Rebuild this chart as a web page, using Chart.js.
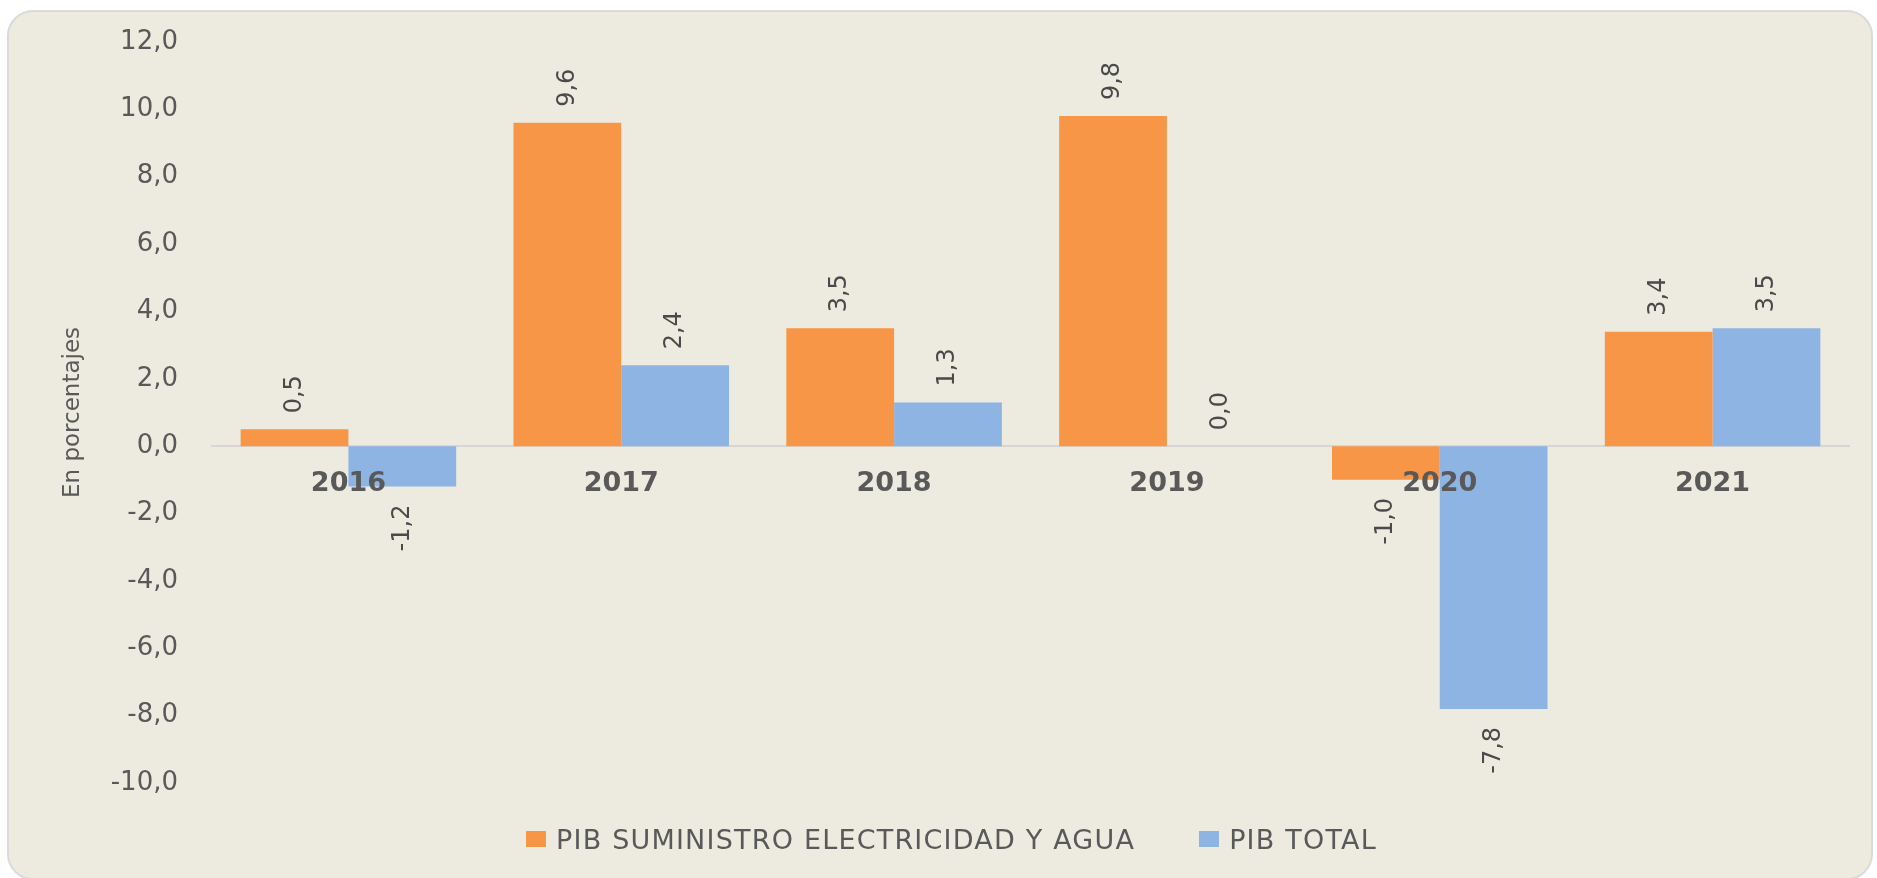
<!DOCTYPE html>
<html>
<head>
<meta charset="utf-8">
<script src="https://cdn.jsdelivr.net/npm/chart.js@4"></script>
<style>
    body { margin: 0; background: #ffffff; }
    #wrap { position: relative; width: 1877px; height: 878px; overflow: hidden; }
    #card {
        position: absolute; left: 7px; top: 10px; width: 1862px; height: 866px;
        background: #EDEBE0; border: 2px solid #DADADA; border-radius: 26px;
    }
    #chart-area { position: absolute; left: 0; top: 0; }
    #legend {
        position: absolute; left: 494px; top: 821px; height: 36px;
        display: flex; align-items: center;
        font-family: 'DejaVu Sans', sans-serif; font-size: 27px; letter-spacing: 1.2px; color: #595959;
    }
    .item { display: flex; align-items: center; margin: 0 32px; white-space: nowrap; }
    .box { width: 20px; height: 16px; margin-right: 10px; }
</style>
</head>
<body>
<div id="wrap">
    <div id="card"></div>
    <canvas id="chart-area" width="1877" height="878"></canvas>
    <div id="legend"></div>
</div>
<script>
var years = ['2016', '2017', '2018', '2019', '2020', '2021'];
var pibElectricidad = [0.5, 9.6, 3.5, 9.8, -1.0, 3.4];
var pibTotal = [-1.2, 2.4, 1.3, 0.0, -7.8, 3.5];
var yTicks = [-10, -8, -6, -4, -2, 0, 2, 4, 6, 8, 10, 12];

var orange = '#F79646';
var blue = '#8EB4E3';
var textColor = '#595959';
var fontFamily = "'DejaVu Sans', sans-serif";

function fmt(v) {
    return v.toFixed(1).replace('.', ',');
}

// rotated value labels above / below each bar
var valueLabels = {
    id: 'valueLabels',
    afterDatasetsDraw: function(chart) {
        var ctx = chart.ctx;
        ctx.save();
        ctx.font = '24px ' + fontFamily;
        ctx.fillStyle = '#4a4a4a';
        ctx.textBaseline = 'middle';
        chart.data.datasets.forEach(function(ds, i) {
            var meta = chart.getDatasetMeta(i);
            meta.data.forEach(function(bar, j) {
                var v = ds.data[j];
                ctx.save();
                if (v >= 0) {
                    ctx.translate(bar.x, bar.y - 16);
                    ctx.textAlign = 'left';
                } else {
                    ctx.translate(bar.x, bar.y + 18);
                    ctx.textAlign = 'right';
                }
                ctx.rotate(-Math.PI / 2);
                ctx.fillText(fmt(v), 0, 0);
                ctx.restore();
            });
        });
        ctx.restore();
    }
};

var config = {
    type: 'bar',
    data: {
        labels: years,
        datasets: [{
            label: 'PIB SUMINISTRO ELECTRICIDAD Y AGUA',
            data: pibElectricidad,
            backgroundColor: orange
        }, {
            label: 'PIB TOTAL',
            data: pibTotal,
            backgroundColor: blue
        }]
    },
    options: {
        responsive: false,
        animation: false,
        layout: {
            padding: { left: 50, right: 28, top: 42, bottom: 95 }
        },
        datasets: {
            bar: { categoryPercentage: 0.79, barPercentage: 1.0 }
        },
        plugins: {
            legend: { display: false },
            tooltip: { enabled: false }
        },
        scales: {
            x: {
                position: { y: 0 },
                grid: { display: false, drawTicks: false },
                border: { display: true, color: '#D6D6D6', width: 2 },
                ticks: {
                    z: 1,
                    color: textColor,
                    padding: 22,
                    font: { family: fontFamily, size: 27, weight: 'bold' }
                }
            },
            y: {
                min: -10,
                max: 12,
                afterFit: function(scale) {
                    scale.width = 162;
                    scale.paddingTop = 0;
                    scale.paddingBottom = 0;
                },
                afterBuildTicks: function(scale) {
                    scale.ticks = yTicks.map(function(v) { return { value: v }; });
                },
                grid: { display: false, drawTicks: false },
                border: { display: false },
                ticks: {
                    color: textColor,
                    padding: 34,
                    font: { family: fontFamily, size: 26 },
                    callback: function(v) { return fmt(v); }
                },
                title: {
                    display: true,
                    text: 'En porcentajes',
                    color: textColor,
                    padding: { top: 9, bottom: 0 },
                    font: { family: fontFamily, size: 23 }
                }
            }
        }
    },
    plugins: [valueLabels]
};

window.onload = function() {
    var ctx = document.getElementById('chart-area').getContext('2d');
    window.barChart = new Chart(ctx, config);
    var legend = document.getElementById('legend');
    window.barChart.data.datasets.forEach(function(ds) {
        var item = document.createElement('div');
        item.className = 'item';
        var box = document.createElement('span');
        box.className = 'box';
        box.style.background = ds.backgroundColor;
        var txt = document.createElement('span');
        txt.textContent = ds.label;
        item.appendChild(box);
        item.appendChild(txt);
        legend.appendChild(item);
    });
};
</script>
</body>
</html>
